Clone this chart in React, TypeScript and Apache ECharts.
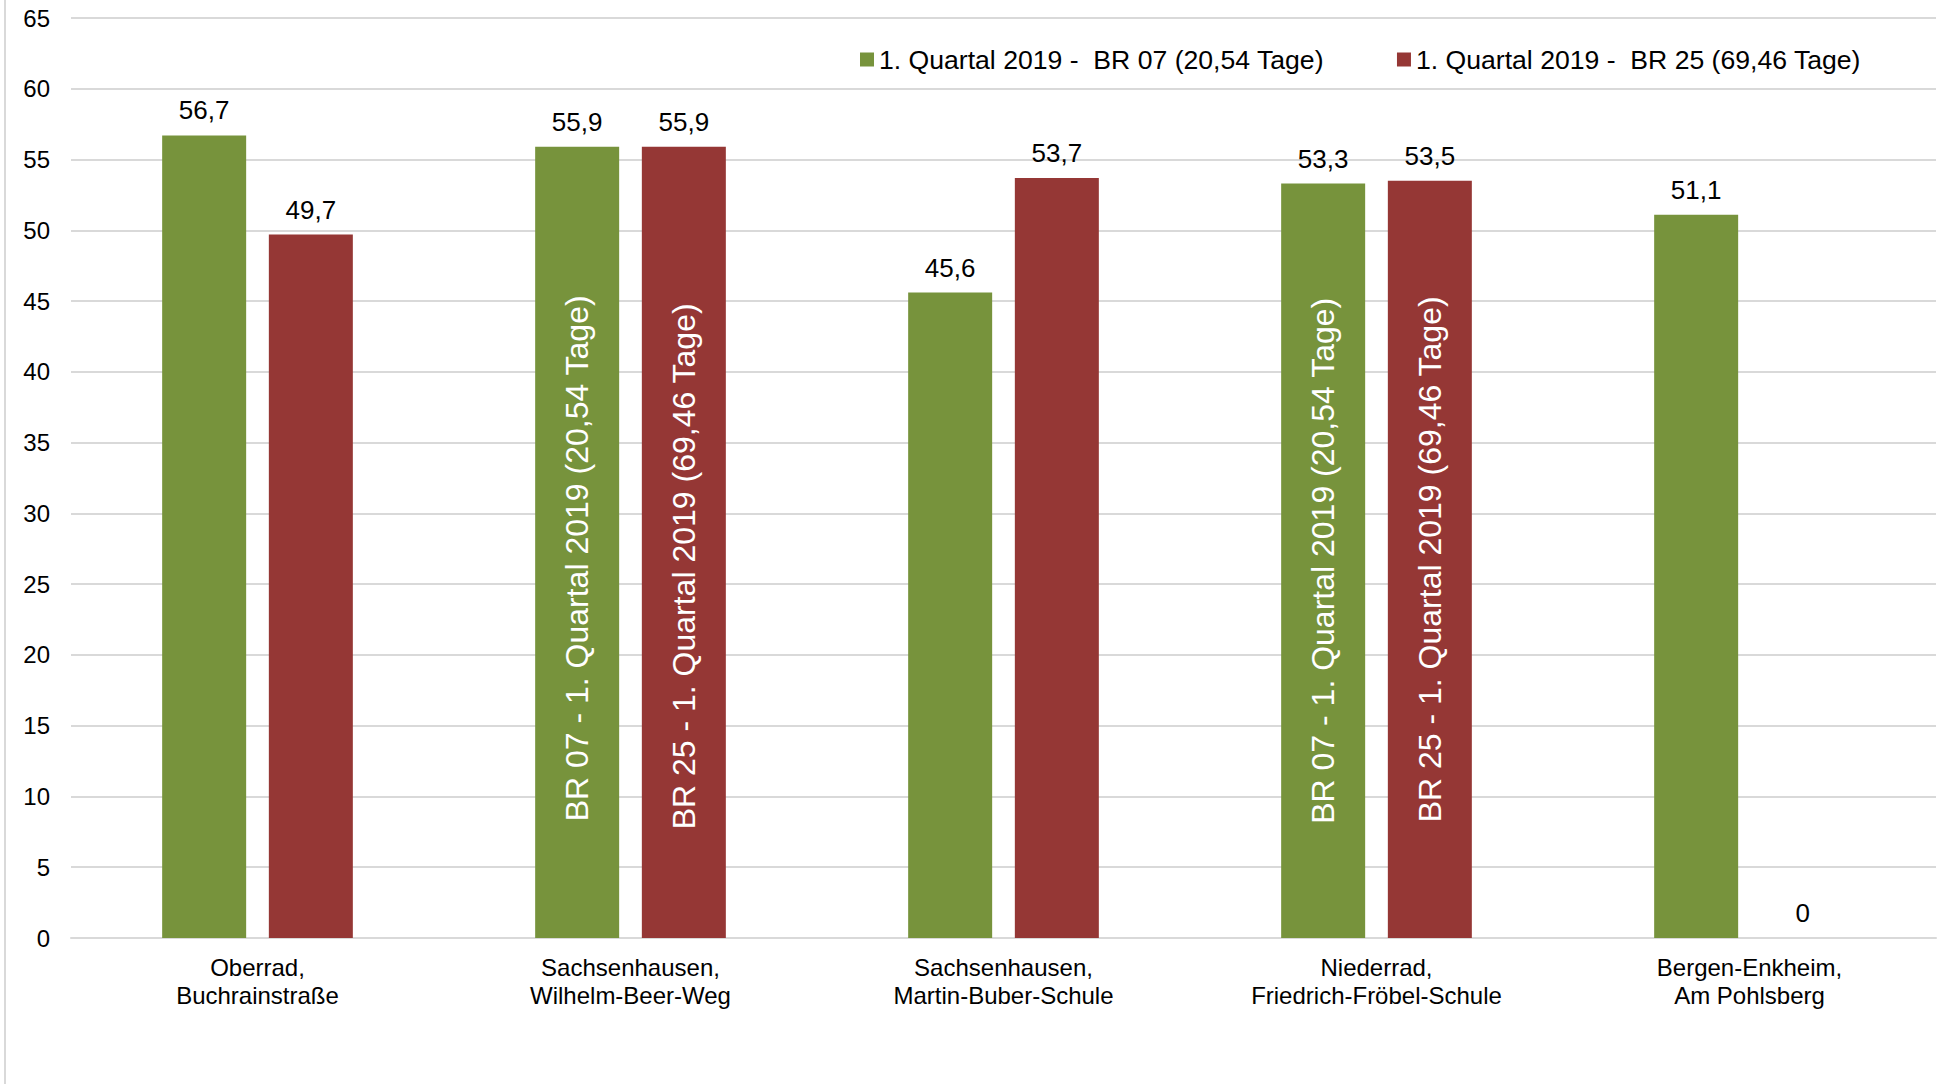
import React, { useEffect, useRef } from "react";
import * as echarts from "echarts";

const categories = [
  "Oberrad,\nBuchrainstraße",
  "Sachsenhausen,\nWilhelm-Beer-Weg",
  "Sachsenhausen,\nMartin-Buber-Schule",
  "Niederrad,\nFriedrich-Fröbel-Schule",
  "Bergen-Enkheim,\nAm Pohlsberg",
];
const seriesNames = [
  "1. Quartal 2019 -  BR 07 (20,54 Tage)",
  "1. Quartal 2019 -  BR 25 (69,46 Tage)",
];
const br07Values = [56.7, 55.9, 45.6, 53.3, 51.1];
const br25Values = [49.7, 55.9, 53.7, 53.5, 0];
const innerLabels = [
  "BR 07 - 1. Quartal 2019 (20,54 Tage)",
  "BR 25 - 1. Quartal 2019 (69,46 Tage)",
];
const innerLabelCategories = [1, 3];
const yTicks = { min: 0, max: 65, interval: 5 };

const GREEN = "#77933C";
const RED = "#953735";
const FONT = "Liberation Sans, Arial, sans-serif";

const fmt = (v: number) => (v === 0 ? "0" : v.toFixed(1).replace(".", ","));

export default function App() {
  const ref = useRef<HTMLDivElement>(null);
  useEffect(() => {
    document.body.style.margin = "0";
    const chart = echarts.init(ref.current!, undefined, { renderer: "svg" });
    const barWidth = 84;
    const barGap = "27%";
    const overlay = (vals: number[], shifts: number[]) =>
      vals.map((v, i) => {
        const k = innerLabelCategories.indexOf(i);
        if (k < 0) return "-";
        return { value: v, label: { offset: [-shifts[k], 0] } };
      });
    chart.setOption({
      animation: false,
      backgroundColor: "#fff",
      textStyle: { fontFamily: FONT },
      grid: { left: 71, right: 23, top: 18, bottom: 146, containLabel: false },
      legend: {
        data: seriesNames,
        left: 855,
        top: 41,
        icon: "rect",
        itemWidth: 14,
        itemHeight: 14,
        itemGap: 73,
        textStyle: { fontSize: 26.6, color: "#000", fontFamily: FONT },
      },
      graphic: [
        {
          type: "line",
          shape: { x1: 5, y1: 0, x2: 5, y2: 1084 },
          style: { stroke: "#d9d9d9", lineWidth: 2 },
          silent: true,
        },
      ],
      xAxis: [
        {
          type: "category",
          data: categories,
          axisLine: { show: true, lineStyle: { color: "#d9d9d9", width: 2 } },
          axisTick: { show: false },
          axisLabel: {
            fontSize: 24,
            lineHeight: 28,
            color: "#000",
            margin: 15,
            fontFamily: FONT,
            interval: 0,
          },
        },
        {
          type: "category",
          data: categories,
          show: false,
        },
      ],
      yAxis: {
        type: "value",
        min: yTicks.min,
        max: yTicks.max,
        interval: yTicks.interval,
        axisLine: { show: false },
        axisTick: { show: false },
        splitLine: { lineStyle: { color: "#d9d9d9", width: 2 } },
        axisLabel: { fontSize: 24, color: "#000", margin: 21, fontFamily: FONT },
      },
      series: [
        {
          name: seriesNames[0],
          type: "bar",
          data: br07Values,
          barWidth,
          barGap,
          itemStyle: { color: GREEN },
          label: {
            show: true,
            position: "top",
            distance: 12,
            fontSize: 26,
            color: "#000",
            fontFamily: FONT,
            formatter: (p: any) => fmt(p.value),
          },
        },
        {
          name: seriesNames[1],
          type: "bar",
          data: br25Values,
          barWidth,
          barGap,
          itemStyle: { color: RED },
          label: {
            show: true,
            position: "top",
            distance: 12,
            fontSize: 26,
            color: "#000",
            fontFamily: FONT,
            formatter: (p: any) => fmt(p.value),
          },
        },
        {
          name: "overlay07",
          type: "bar",
          xAxisIndex: 1,
          data: overlay(br07Values, [16, 0]),
          barWidth,
          barGap,
          silent: true,
          itemStyle: { color: "rgba(0,0,0,0)" },
          label: {
            show: true,
            position: "inside",
            rotate: 90,
            fontSize: 32,
            color: "#fff",
            fontFamily: FONT,
            formatter: () => innerLabels[0],
          },
        },
        {
          name: "overlay25",
          type: "bar",
          xAxisIndex: 1,
          data: overlay(br25Values, [24, 0]),
          barWidth,
          barGap,
          silent: true,
          itemStyle: { color: "rgba(0,0,0,0)" },
          label: {
            show: true,
            position: "inside",
            rotate: 90,
            fontSize: 32,
            color: "#fff",
            fontFamily: FONT,
            formatter: () => innerLabels[1],
          },
        },
      ],
    });
    return () => chart.dispose();
  }, []);
  return (
    <div
      ref={ref}
      style={{ position: "absolute", left: 0, top: 0, width: 1959, height: 1084 }}
    />
  );
}
